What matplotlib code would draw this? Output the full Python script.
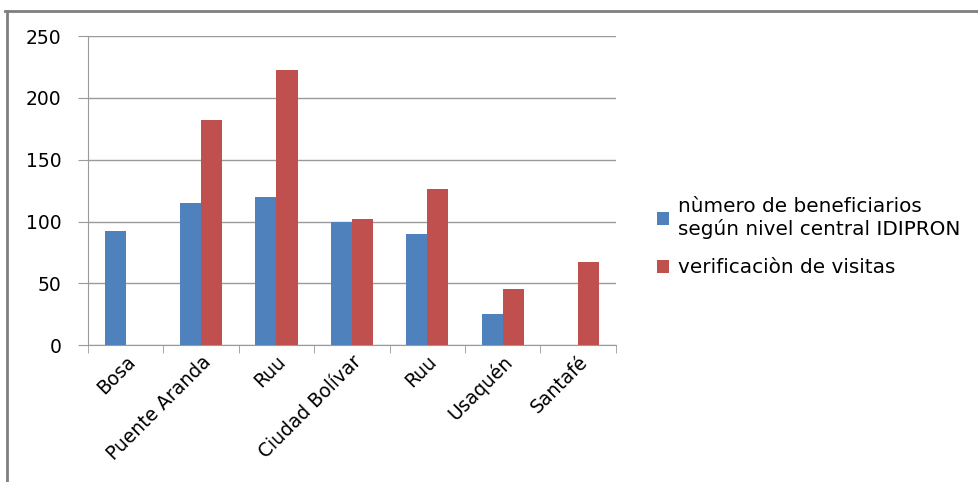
import numpy as np
import matplotlib.pyplot as plt
from matplotlib.lines import Line2D

plt.rcParams['font.family'] = ['DejaVu Sans']

categories = ['Bosa', 'Puente Aranda', 'Ruu', 'Ciudad Bolívar', 'Ruu', 'Usaquén', 'Santafé']
beneficiarios = [92, 115, 120, 100, 90, 25, 0]
visitas = [0, 182, 223, 102, 126, 45, 67]
label_a = 'nùmero de beneficiarios\nsegún nivel central IDIPRON'
label_b = 'verificaciòn de visitas'

fig = plt.figure(figsize=(9.79, 4.82), dpi=100)
ax = fig.add_axes([0.0899, 0.284, 0.539, 0.641])

x = np.arange(len(categories))
w = 0.28
ax.bar(x - w / 2, beneficiarios, w, color='#4F81BD', label=label_a, zorder=3)
ax.bar(x + w / 2, visitas, w, color='#C0504D', label=label_b, zorder=3)

ax.set_xlim(-0.5, len(categories) - 0.5)
ax.set_ylim(0, 250)
ax.set_yticks(range(0, 251, 50))
ax.yaxis.grid(True, color='#9a9a9a', linewidth=1, zorder=0)

ax.set_xticks(x)
ax.set_xticklabels(categories, rotation=45, ha='right', rotation_mode='anchor', fontsize=13.5)
ax.set_xticks(np.arange(-0.5, len(categories)), minor=True)
ax.tick_params(axis='x', which='major', length=0, pad=5)
ax.tick_params(axis='x', which='minor', length=6, color='#9a9a9a', direction='out')
ax.tick_params(axis='y', length=7, color='#9a9a9a', labelsize=13.5, pad=12)

for s in ['top', 'right']:
    ax.spines[s].set_visible(False)
for s in ['left', 'bottom']:
    ax.spines[s].set_color('#9a9a9a')

fig.legend(loc='center left', bbox_to_anchor=(0.653, 0.508), frameon=False,
           fontsize=14.4, handlelength=0.6, handleheight=0.6, labelspacing=0.95,
           handletextpad=0.45)

# outer chart frame
fig.add_artist(Line2D([0.005, 1.0], [0.977, 0.977], color='#7f7f7f', linewidth=2))
fig.add_artist(Line2D([0.007, 0.007], [0.0, 0.977], color='#7f7f7f', linewidth=2))

fig.savefig('out.png', dpi=100)
